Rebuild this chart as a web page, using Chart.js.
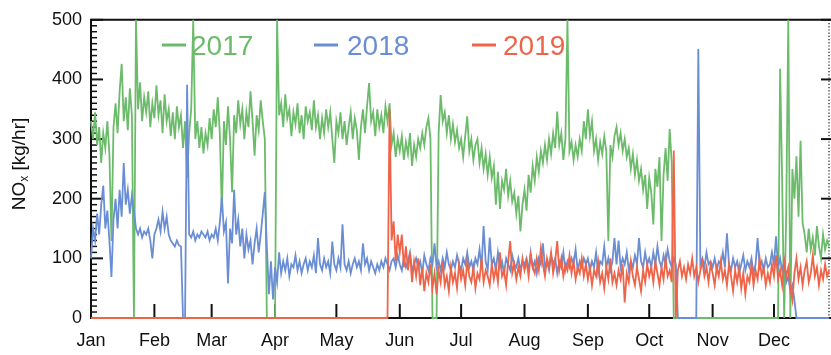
<!DOCTYPE html>
<html>
<head>
<meta charset="utf-8">
<script src="https://cdn.jsdelivr.net/npm/chart.js@4.4.1/dist/chart.umd.min.js"></script>
<style>
  html, body { margin: 0; padding: 0; background: #ffffff; }
  canvas { display: block; }
</style>
</head>
<body>
<canvas id="nox" width="831" height="355"></canvas>
<script>
// Month labels and the day-of-year each month starts on
const MONTHS = ['Jan', 'Feb', 'Mar', 'Apr', 'May', 'Jun', 'Jul', 'Aug', 'Sep', 'Oct', 'Nov', 'Dec'];
const MONTH_START_DAY = [0, 31, 59, 90, 120, 151, 181, 212, 243, 273, 304, 334];
const Y_TICKS = [0, 100, 200, 300, 400, 500];
const YEARS = ['2017', '2018', '2019'];

// Daily NOx emission rate [kg/hr], one value per day of year (day 0 = 1 Jan)
const NOX_2017 = [
  // Jan
  330,300,345,290,320,260,310,285,330,275, 129,320,360,310,380,426,330,370,315,385, 340,0,500,350,395,330,370,345,380,320, 360,
  // Feb
  335,390,340,365,310,375,330,350,305,345, 300,355,320,340,285,330,235,310,350,500, 300,330,285,320,276,310,290,335,
  // Mar
  300,350,320,370,310,178,330,290,355,300, 211,340,310,365,325,350,300,345,320,380, 330,272,340,315,365,330,300,0,0,0, 0,
  // Apr
  0,500,340,360,320,375,335,350,305,345, 325,360,310,340,300,355,330,345,315,365, 320,340,300,335,310,350,320,345,300,260,
  // May
  330,310,345,300,330,290,320,345,300,335, 315,265,320,350,310,355,394,330,345,305, 350,320,340,310,355,330,360,290,310,270, 300,
  // Jun
  280,305,265,295,275,310,255,290,270,300, 285,310,290,320,335,300,0,0,0,310, 374,330,345,310,340,300,325,295,315,285,
  // Jul
  300,270,305,338,280,300,265,290,300,260, 285,250,275,240,270,235,255,190,245,183, 230,215,250,205,230,195,210,175,205,145, 190,
  // Aug
  215,180,240,210,255,230,270,245,280,260, 290,265,300,275,310,285,346,290,310,265, 300,500,280,295,265,290,270,300,280,330, 300,
  // Sep
  350,305,330,280,300,265,295,275,305,280, 129,290,270,305,320,290,310,280,300,270, 285,250,275,240,265,230,250,215,240,183,
  // Oct
  235,210,157,250,220,270,129,240,285,230, 317,260,0,0,0,0,0,0,0,0, 0,0,0,0,0,0,0,0,0,0, 0,
  // Nov
  0,0,0,0,0,0,0,0,0,0, 0,0,0,0,0,0,0,0,0,0, 0,0,0,0,0,0,0,0,0,0,
  // Dec
  0,0,0,418,230,0,180,500,0,250, 200,271,170,297,160,140,110,150,115,135, 105,154,120,100,140,115,130,120
];

const NOX_2018 = [
  // Jan
  100,150,130,175,140,190,222,150,180,130, 69,165,200,150,215,170,260,190,215,175, 205,180,150,140,150,135,145,140,150,130, 100,
  // Feb
  140,150,165,145,178,150,170,140,130,125, 120,130,122,120,0,0,391,140,135,145, 130,140,135,145,140,135,145,130,
  // Mar
  140,135,150,130,160,203,145,160,58,150, 125,215,140,165,120,150,100,140,115,130, 90,125,150,110,140,175,211,120,40,95, 31,
  // Apr
  85,60,110,75,95,80,100,70,90,85, 105,80,95,75,90,100,80,95,85,105, 75,134,90,80,100,85,95,75,128,90,
  // May
  80,100,85,157,90,80,95,75,90,100, 85,95,80,125,90,100,80,95,85,75, 90,80,95,85,100,90,80,95,100,85, 105,
  // Jun
  90,80,100,85,95,110,80,90,100,85, 95,75,105,90,80,100,90,125,85,95, 80,100,85,110,90,80,95,85,105,90,
  // Jul
  80,100,90,110,85,95,80,100,90,115, 85,154,95,80,135,90,100,80,110,85, 95,75,100,90,80,105,90,85,100,80, 95,
  // Aug
  90,100,80,110,85,95,75,100,90,125, 85,95,80,105,90,100,75,95,85,110, 80,95,85,100,90,115,80,95,85,100, 90,
  // Sep
  100,80,95,85,110,75,95,90,120,85, 100,80,95,134,90,130,85,100,90,110, 80,95,85,105,90,134,95,85,110,90,
  // Oct
  100,85,110,90,120,95,85,105,90,115, 95,85,100,90,0,0,0,0,0,0, 0,0,0,0,451,90,100,85,110,90, 95,
  // Nov
  85,100,80,95,90,110,85,142,90,80, 100,85,95,75,90,105,80,95,85,100, 75,90,134,85,95,80,100,85,90,110,
  // Dec
  90,137,85,100,80,95,60,70,45,55, 30,0,0,0,0,0,0,0,0,0, 0,0,0,0,0,0,0,0
];

const NOX_2019 = [
  // Jan
  0,0,0,0,0,0,0,0,0,0, 0,0,0,0,0,0,0,0,0,0, 0,0,0,0,0,0,0,0,0,0, 0,
  // Feb
  0,0,0,0,0,0,0,0,0,0, 0,0,0,0,0,0,0,0,0,0, 0,0,0,0,0,0,0,0,
  // Mar
  0,0,0,0,0,0,0,0,0,0, 0,0,0,0,0,0,0,0,0,0, 0,0,0,0,0,0,0,0,0,0, 0,
  // Apr
  0,0,0,0,0,0,0,0,0,0, 0,0,0,0,0,0,0,0,0,0, 0,0,0,0,0,0,0,0,0,0,
  // May
  0,0,0,0,0,0,0,0,0,0, 0,0,0,0,0,0,0,0,0,0, 0,0,0,0,0,0,350,130,162,95, 140,
  // Jun
  110,140,85,120,80,110,60,95,70,100, 55,85,45,75,60,90,50,75,40,80, 60,95,55,70,45,85,60,75,50,90,
  // Jul
  65,80,55,95,70,60,85,50,75,65, 100,60,80,70,55,90,65,85,60,110, 70,80,55,95,129,75,90,65,85,70, 100,
  // Aug
  80,95,70,105,85,75,100,80,117,90, 70,100,85,110,75,95,129,80,100,70, 90,80,105,75,95,65,85,75,100,70, 90,
  // Sep
  65,85,55,80,70,95,60,75,50,85, 65,100,60,75,55,80,65,90,26,75, 60,95,70,55,85,65,45,80,60,90,
  // Oct
  70,85,60,95,75,55,85,65,100,70, 80,60,281,0,80,95,70,85,65,90, 75,100,70,85,60,80,95,70,85,60, 90,
  // Nov
  75,55,85,70,95,65,80,55,90,70, 45,80,60,85,50,75,40,70,60,90, 55,80,65,100,70,85,55,75,60,90,
  // Dec
  70,105,65,80,55,95,70,85,50,30, 75,100,65,85,55,80,95,60,75,105, 70,85,55,80,65,90,70,80
];

const FONT = "'Liberation Sans', Arial, Helvetica, sans-serif";
const INK = '#111111';
const YEAR_COLORS = { '2017': '#6cbb6b', '2018': '#6a8ed4', '2019': '#ee6449' };
const SERIES = { '2017': NOX_2017, '2018': NOX_2018, '2019': NOX_2019 };
// later years are drawn over earlier ones
const DRAW_ORDER = { '2017': 2, '2018': 1, '2019': 0 };

function toPoints(values) {
  return values.map((v, day) => ({ x: day, y: v }));
}

// Axis frame: solid left/top/bottom, dotted right, inward tick marks
const framePlugin = {
  id: 'frame',
  beforeDatasetsDraw(chart) {
    const { ctx, chartArea: { left, right, top, bottom }, scales: { x, y } } = chart;
    ctx.save();
    ctx.strokeStyle = INK;

    // dotted right edge
    ctx.lineWidth = 1.2;
    ctx.setLineDash([1.2, 2]);
    ctx.beginPath();
    ctx.moveTo(right - 1, top);
    ctx.lineTo(right - 1, bottom);
    ctx.stroke();
    ctx.setLineDash([]);

    ctx.lineWidth = 2;
    ctx.beginPath();
    ctx.moveTo(left, top);
    ctx.lineTo(right + 1, top);
    ctx.moveTo(left, top - 1);
    ctx.lineTo(left, bottom + 1);
    ctx.moveTo(left - 1, bottom);
    ctx.lineTo(right + 1, bottom);
    ctx.stroke();

    // left ticks: major every 100, minor every 10
    for (let v = 0; v <= 500; v += 10) {
      const py = y.getPixelForValue(v);
      const major = v % 100 === 0;
      ctx.lineWidth = major ? 2 : 1.5;
      ctx.beginPath();
      ctx.moveTo(left, py);
      ctx.lineTo(left + (major ? 12 : 6), py);
      ctx.stroke();
    }
    // right ticks
    ctx.lineWidth = 2;
    Y_TICKS.forEach(v => {
      const py = y.getPixelForValue(v);
      ctx.beginPath();
      ctx.moveTo(right - 9, py);
      ctx.lineTo(right + 1, py);
      ctx.stroke();
    });
    // month ticks on the bottom axis
    MONTH_START_DAY.slice(1).forEach(d => {
      const px = x.getPixelForValue(d);
      ctx.beginPath();
      ctx.moveTo(px, bottom);
      ctx.lineTo(px, bottom - 14);
      ctx.stroke();
    });
    ctx.restore();
  },
  afterDatasetsDraw(chart) {
    const { ctx } = chart;
    // in-plot legend
    const entries = [
      { year: YEARS[0], dash: 162, text: 191 },
      { year: YEARS[1], dash: 314, text: 347 },
      { year: YEARS[2], dash: 472, text: 503 }
    ];
    ctx.save();
    entries.forEach(e => {
      const c = YEAR_COLORS[e.year];
      ctx.strokeStyle = c;
      ctx.lineWidth = 3;
      ctx.beginPath();
      ctx.moveTo(e.dash, 45);
      ctx.lineTo(e.dash + 24, 45);
      ctx.stroke();
      ctx.fillStyle = c;
      ctx.font = '28px ' + FONT;
      ctx.textAlign = 'left';
      ctx.textBaseline = 'alphabetic';
      ctx.fillText(e.year, e.text, 55);
    });
    ctx.restore();
  },
  afterDraw(chart) {
    // y-axis title with subscript x
    const { ctx } = chart;
    ctx.save();
    ctx.translate(25, 164);
    ctx.rotate(-Math.PI / 2);
    ctx.fillStyle = INK;
    ctx.textBaseline = 'alphabetic';
    ctx.textAlign = 'left';
    const big = '19px ' + FONT;
    const small = '12px ' + FONT;
    ctx.font = big;
    const wNO = ctx.measureText('NO').width;
    const wRest = ctx.measureText(' [kg/hr]').width;
    ctx.font = small;
    const wx = ctx.measureText('x').width;
    let cx = -(wNO + wx + wRest) / 2;
    ctx.font = big;
    ctx.fillText('NO', cx, 0);
    cx += wNO;
    ctx.font = small;
    ctx.fillText('x', cx, 3);
    cx += wx;
    ctx.font = big;
    ctx.fillText(' [kg/hr]', cx, 0);
    ctx.restore();
  }
};

new Chart(document.getElementById('nox'), {
  type: 'line',
  data: {
    datasets: YEARS.map(year => ({
      label: year,
      data: toPoints(SERIES[year]),
      borderColor: YEAR_COLORS[year],
      backgroundColor: YEAR_COLORS[year],
      borderWidth: 1.8,
      pointRadius: 0,
      tension: 0,
      fill: false,
      clip: false,
      order: DRAW_ORDER[year]
    }))
  },
  options: {
    responsive: false,
    animation: false,
    devicePixelRatio: 1,
    layout: { padding: { left: 0, top: 15, right: 1, bottom: 0 } },
    plugins: { legend: { display: false }, tooltip: { enabled: false }, title: { display: false } },
    scales: {
      x: {
        type: 'linear',
        min: 0,
        max: 361.4,
        afterBuildTicks: s => { s.ticks = MONTH_START_DAY.map(v => ({ value: v })); },
        afterFit: s => { s.height = 37; },
        ticks: {
          callback: (v, i) => MONTHS[i],
          font: { family: FONT, size: 18 },
          color: INK,
          padding: 12,
          maxRotation: 0,
          autoSkip: false
        },
        grid: { display: false, drawTicks: false },
        border: { display: false }
      },
      y: {
        min: 0,
        max: 500,
        afterBuildTicks: s => { s.ticks = Y_TICKS.map(v => ({ value: v })); },
        afterFit: s => { s.width = 91; },
        ticks: {
          font: { family: FONT, size: 18 },
          color: INK,
          padding: 9
        },
        grid: { display: false, drawTicks: false },
        border: { display: false }
      }
    }
  },
  plugins: [framePlugin]
});
</script>
</body>
</html>
